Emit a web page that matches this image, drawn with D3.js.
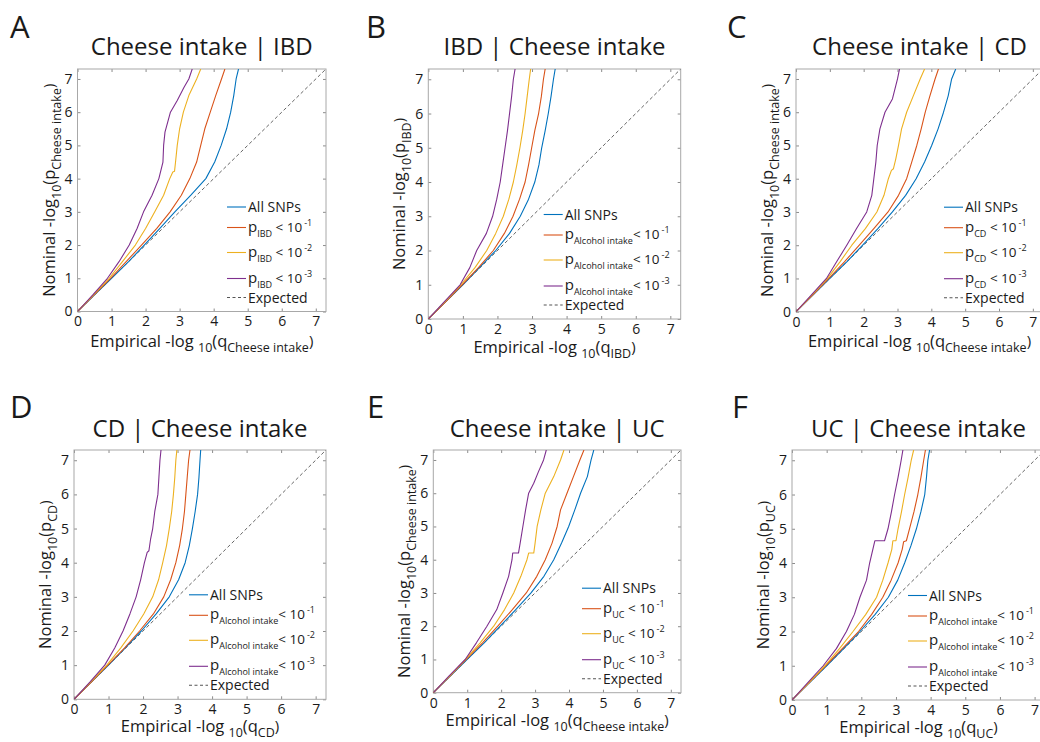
<!DOCTYPE html>
<html><head><meta charset="utf-8">
<script src="https://cdn.jsdelivr.net/npm/d3@7"></script>
<style>
body{margin:0;background:#fff}
svg{display:block}
text{font-family:"Open Sans","Noto Sans",sans-serif;fill:#1a1a1a}
</style>
</head><body>
<svg id="c" width="1040" height="742"></svg>
<script>
// ---------------- data ----------------
const panelLetters = ["A","B","C","D","E","F"];
const panelTitles = ["Cheese intake | IBD","IBD | Cheese intake","Cheese intake | CD",
                     "CD | Cheese intake","Cheese intake | UC","UC | Cheese intake"];
const axisTraits = ["Cheese intake","IBD","Cheese intake","CD","Cheese intake","UC"];
const conditionTraits = ["IBD","Alcohol intake","CD","Alcohol intake","UC","Alcohol intake"];
const seriesNames = ["All SNPs","p < 10^-1","p < 10^-2","p < 10^-3"];
const thresholdExps = ["-1","-2","-3"];
const expectedLabel = "Expected";
const tickValues = [0,1,2,3,4,5,6,7];
const axisMax = 7.3;

// [empirical -log10 q, nominal -log10 p]
const A_all = [[0,0],[0.5,0.5],[1,1],[1.5,1.5],[1.96,2],[2.42,2.5],[2.86,3],[3.33,3.5],[3.77,4],[4.03,4.5],[4.22,5],[4.38,5.5],[4.5,6],[4.59,6.5],[4.66,7],[4.73,7.3]];
const A_p1  = [[0,0],[0.49,0.5],[0.97,1],[1.43,1.5],[1.88,2],[2.33,2.5],[2.72,3],[3.05,3.5],[3.3,4],[3.5,4.5],[3.62,5],[3.74,5.5],[3.9,6],[4.06,6.5],[4.23,7],[4.33,7.3]];
const A_p2  = [[0,0],[0.47,0.5],[0.93,1],[1.32,1.5],[1.7,2],[2.0,2.5],[2.27,3],[2.53,3.5],[2.71,4],[2.8,4.2],[2.85,4.22],[2.88,4.5],[2.93,5],[3.0,5.5],[3.11,6],[3.27,6.5],[3.5,7],[3.62,7.3]];
const A_p3  = [[0,0],[0.45,0.5],[0.88,1],[1.22,1.5],[1.52,2],[1.75,2.5],[1.94,3],[2.19,3.5],[2.39,4],[2.51,4.5],[2.53,5],[2.57,5.4],[2.73,6],[2.93,6.35],[3.13,6.75],[3.27,7],[3.37,7.3]];

const B_all = [[0,0],[0.5,0.5],[1,1],[1.48,1.5],[1.95,2],[2.35,2.5],[2.66,3],[2.9,3.5],[3.08,4],[3.2,4.5],[3.28,5],[3.38,5.5],[3.47,6],[3.55,6.5],[3.62,7],[3.67,7.3]];
const B_p1  = [[0,0],[0.5,0.5],[0.98,1],[1.45,1.5],[1.88,2],[2.2,2.5],[2.45,3],[2.64,3.5],[2.8,4],[2.9,4.5],[2.99,5],[3.08,5.5],[3.19,6],[3.27,6.5],[3.33,7],[3.38,7.3]];
const B_p2  = [[0,0],[0.48,0.5],[0.94,1],[1.35,1.5],[1.69,2],[1.95,2.5],[2.17,3],[2.33,3.5],[2.46,4],[2.56,4.5],[2.65,5],[2.73,5.5],[2.8,6],[2.86,6.5],[2.92,7],[2.96,7.3]];
const B_p3  = [[0,0],[0.46,0.5],[0.92,1],[1.2,1.5],[1.4,2],[1.68,2.5],[1.86,3],[1.98,3.5],[2.08,4],[2.15,4.5],[2.22,5],[2.29,5.5],[2.35,6],[2.41,6.5],[2.46,7],[2.51,7.3]];

const C_all = [[0,0],[0.5,0.5],[1,1],[1.5,1.5],[1.97,2],[2.42,2.5],[2.85,3],[3.24,3.5],[3.55,4],[3.8,4.5],[4.01,5],[4.2,5.5],[4.36,6],[4.5,6.5],[4.6,7],[4.72,7.3]];
const C_p1  = [[0,0],[0.49,0.5],[0.97,1],[1.43,1.5],[1.87,2],[2.3,2.5],[2.72,3],[3.03,3.5],[3.27,4],[3.42,4.5],[3.57,5],[3.7,5.5],[3.82,6],[3.96,6.5],[4.11,7],[4.21,7.3]];
const C_p2  = [[0,0],[0.47,0.5],[0.93,1],[1.3,1.5],[1.65,2],[2.05,2.5],[2.39,3],[2.6,3.5],[2.73,4],[2.82,4.25],[2.88,4.3],[2.95,4.6],[3.03,5],[3.12,5.5],[3.27,6],[3.47,6.5],[3.67,7],[3.8,7.3]];
const C_p3  = [[0,0],[0.45,0.5],[0.9,1],[1.2,1.5],[1.5,2],[1.79,2.5],[2.09,3],[2.24,3.5],[2.3,4],[2.36,4.5],[2.4,5],[2.48,5.5],[2.63,6],[2.85,6.4],[3.0,7],[3.06,7.3]];

const D_all = [[0,0],[0.5,0.5],[1,1],[1.48,1.5],[1.95,2],[2.38,2.5],[2.76,3],[3.03,3.5],[3.22,4],[3.34,4.5],[3.43,5],[3.51,5.5],[3.58,6],[3.62,6.5],[3.65,7],[3.67,7.3]];
const D_p1  = [[0,0],[0.5,0.5],[0.98,1],[1.46,1.5],[1.9,2],[2.3,2.5],[2.6,3],[2.8,3.5],[2.95,4],[3.06,4.5],[3.14,5],[3.2,5.5],[3.24,6],[3.28,6.5],[3.32,7],[3.36,7.3]];
const D_p2  = [[0,0],[0.48,0.5],[0.95,1],[1.35,1.5],[1.71,2],[2.02,2.5],[2.28,3],[2.45,3.5],[2.57,4],[2.68,4.5],[2.76,5],[2.83,5.5],[2.88,6],[2.92,6.5],[2.95,7],[2.98,7.3]];
const D_p3  = [[0,0],[0.46,0.5],[0.89,1],[1.18,1.5],[1.42,2],[1.62,2.5],[1.8,3],[1.93,3.5],[2.04,4],[2.12,4.3],[2.17,4.35],[2.22,4.7],[2.28,5],[2.34,5.5],[2.43,6],[2.46,6.5],[2.49,7],[2.52,7.3]];

const E_all = [[0,0],[0.5,0.5],[1,1],[1.5,1.5],[1.97,2],[2.43,2.5],[2.88,3],[3.26,3.5],[3.55,4],[3.78,4.5],[3.99,5],[4.17,5.5],[4.34,6],[4.54,6.5],[4.65,7],[4.73,7.3]];
const E_p1  = [[0,0],[0.49,0.5],[0.97,1],[1.45,1.5],[1.9,2],[2.33,2.5],[2.74,3],[3.05,3.5],[3.3,4],[3.5,4.5],[3.65,5],[3.75,5.5],[3.94,6],[4.13,6.5],[4.32,7],[4.44,7.3]];
const E_p2  = [[0,0],[0.48,0.5],[0.95,1],[1.38,1.5],[1.78,2],[2.1,2.5],[2.37,3],[2.58,3.5],[2.76,4],[2.81,4.2],[2.96,4.2],[3.0,4.5],[3.06,5],[3.17,5.5],[3.3,6],[3.55,6.5],[3.75,7],[3.85,7.3]];
const E_p3  = [[0,0],[0.46,0.5],[0.94,1],[1.27,1.5],[1.58,2],[1.87,2.5],[2.05,3],[2.22,3.5],[2.32,4],[2.34,4.2],[2.51,4.2],[2.56,4.5],[2.64,5],[2.72,5.5],[2.81,6],[2.96,6.3],[3.1,6.65],[3.25,7],[3.33,7.3]];

const F_all = [[0,0],[0.5,0.5],[1.0,1],[1.49,1.5],[1.96,2],[2.4,2.5],[2.78,3],[3.05,3.5],[3.25,4],[3.43,4.5],[3.59,5],[3.72,5.5],[3.83,6],[3.88,6.5],[3.92,7],[3.97,7.3]];
const F_p1  = [[0,0],[0.49,0.5],[0.97,1],[1.45,1.5],[1.92,2],[2.3,2.5],[2.62,3],[2.86,3.5],[3.06,4],[3.18,4.4],[3.22,4.62],[3.3,4.65],[3.39,5],[3.52,5.5],[3.63,6],[3.72,6.5],[3.8,7],[3.85,7.3]];
const F_p2  = [[0,0],[0.48,0.5],[0.95,1],[1.37,1.5],[1.76,2],[2.13,2.5],[2.44,3],[2.62,3.5],[2.77,4],[2.88,4.4],[2.91,4.65],[3.0,4.65],[3.06,5],[3.16,5.5],[3.25,6],[3.35,6.5],[3.44,7],[3.51,7.3]];
const F_p3  = [[0,0],[0.45,0.5],[0.9,1],[1.28,1.5],[1.57,2],[1.8,2.5],[1.96,3],[2.15,3.5],[2.24,4],[2.39,4.65],[2.67,4.65],[2.77,5],[2.87,5.5],[2.96,6],[3.06,6.5],[3.15,7],[3.2,7.3]];

const panelSeries = [
  [A_all,A_p1,A_p2,A_p3],[B_all,B_p1,B_p2,B_p3],[C_all,C_p1,C_p2,C_p3],
  [D_all,D_p1,D_p2,D_p3],[E_all,E_p1,E_p2,E_p3],[F_all,F_p1,F_p2,F_p3]
];

// ---------------- layout / style ----------------
const colors = ["#0072BD","#D95319","#EDB120","#7E2F8E"];
const layout = [
  {L:77.5, R:326,  T:69,  B:311.5, lx:10,  ly:38,  xo:35},
  {L:428.3,R:680.7,T:69,  B:319,   lx:366, ly:38,  xo:34},
  {L:796,  R:1043, T:69,  B:311.7, lx:727, ly:38,  xo:35},
  {L:74,   R:326,  T:450, B:699.3, lx:10,  ly:418, xo:33},
  {L:433.3,R:681,  T:450, B:692.7, lx:367, ly:418, xo:33},
  {L:792,  R:1045, T:450, B:700,   lx:732, ly:418, xo:33}
];
const svg = d3.select("#c");
const defs = svg.append("defs");

panelLetters.forEach((letter, i) => {
  const p = layout[i];
  const g = svg.append("g");
  const x = d3.scaleLinear().domain([0, axisMax]).range([p.L, p.R]);
  const y = d3.scaleLinear().domain([0, axisMax]).range([p.B, p.T]);

  // panel letter
  g.append("text").attr("x", p.lx).attr("y", p.ly).attr("font-size", 31).text(letter);
  // title
  g.append("text").attr("x", (p.L + p.R) / 2).attr("y", p.T - (i < 3 ? 14 : 13))
    .attr("text-anchor", "middle").attr("font-size", 24).text(panelTitles[i]);

  // clip
  const cid = "clip" + i;
  defs.append("clipPath").attr("id", cid).append("rect")
    .attr("x", p.L).attr("y", p.T).attr("width", p.R - p.L).attr("height", p.B - p.T);

  // axes (ticks inward on all sides)
  const tickCol = "#8c8c8c";
  const ax = (gen, tr) => {
    const a = g.append("g").attr("transform", tr).call(gen);
    a.select(".domain").remove();
    a.selectAll(".tick line").attr("stroke", tickCol);
    return a;
  };
  ax(d3.axisBottom(x).tickValues(tickValues).tickSizeInner(-3).tickSizeOuter(0).tickPadding(5), `translate(0,${p.B})`)
    .selectAll("text").attr("font-size", 14).attr("fill", "#262626").attr("font-family", '"Open Sans",sans-serif');
  ax(d3.axisLeft(y).tickValues(tickValues).tickSizeInner(-3).tickSizeOuter(0).tickPadding(5), `translate(${p.L},0)`)
    .selectAll("text").attr("font-size", 14).attr("fill", "#262626").attr("font-family", '"Open Sans",sans-serif');
  ax(d3.axisTop(x).tickValues(tickValues).tickSizeInner(-3).tickSizeOuter(0).tickFormat(""), `translate(0,${p.T})`);
  ax(d3.axisRight(y).tickValues(tickValues).tickSizeInner(-3).tickSizeOuter(0).tickFormat(""), `translate(${p.R},0)`);
  g.append("rect").attr("x", p.L).attr("y", p.T).attr("width", p.R - p.L).attr("height", p.B - p.T)
    .attr("fill", "none").attr("stroke", "#a8a8a8").attr("stroke-width", 1);

  const plot = g.append("g").attr("clip-path", `url(#${cid})`);
  // expected line
  plot.append("path").datum([[0,0],[axisMax,axisMax]])
    .attr("d", d3.line().x(d => x(d[0])).y(d => y(d[1])))
    .attr("fill", "none").attr("stroke", "#555").attr("stroke-width", 0.9).attr("stroke-dasharray", "3.5,2.5");
  const line = d3.line().x(d => x(d[0])).y(d => y(d[1]));
  panelSeries[i].forEach((s, k) => {
    plot.append("path").datum(s).attr("d", line)
      .attr("fill", "none").attr("stroke", colors[k]).attr("stroke-width", 1.1).attr("stroke-linejoin", "round");
  });

  // x label
  const xl = g.append("text").attr("x", (p.L + p.R) / 2).attr("y", p.B + p.xo)
    .attr("text-anchor", "middle").attr("font-size", 16.5);
  xl.append("tspan").text("Empirical -log ");
  xl.append("tspan").attr("font-size", 12.5).attr("dy", 5).text("10");
  xl.append("tspan").attr("dy", -5).text("(q");
  xl.append("tspan").attr("font-size", 12.5).attr("dy", 5).text(axisTraits[i]);
  xl.append("tspan").attr("dy", -6).attr("font-size", 15).text(")");

  // y label
  const cy = (p.T + p.B) / 2;
  const yl = g.append("text").attr("transform", `translate(${p.L - 23},${cy}) rotate(-90)`)
    .attr("text-anchor", "middle").attr("font-size", 16.5);
  yl.append("tspan").text("Nominal -log");
  yl.append("tspan").attr("font-size", 12.5).attr("dy", 6).text("10");
  yl.append("tspan").attr("dy", -6).text("(p");
  yl.append("tspan").attr("font-size", 12.5).attr("dy", 6).text(axisTraits[i]);
  yl.append("tspan").attr("dy", -7).attr("font-size", 15).text(")");

  // legend
  const alc = conditionTraits[i].length > 4;
  const lx0 = p.R - (alc ? 137 : 99);
  const ly0 = p.B - 104.5;
  const rowOff = [0, 20.5, 45.5, 71.5, 90.5];
  const lg = g.append("g");
  const names = [seriesNames[0], ...thresholdExps, expectedLabel];
  names.forEach((nm, k) => {
    const yy = ly0 + rowOff[k];
    const ln = lg.append("line").attr("x1", lx0).attr("x2", lx0 + 19).attr("y1", yy).attr("y2", yy)
      .attr("stroke-width", 1.1);
    if (k < 4) ln.attr("stroke", colors[k]);
    else ln.attr("stroke", "#555").attr("stroke-dasharray", "3,2.5");
    const t = lg.append("text").attr("x", lx0 + 21).attr("font-size", 14);
    if (k === 0 || k === 4) {
      t.attr("y", yy + 5).text(k === 0 ? seriesNames[0] : expectedLabel);
    } else {
      t.attr("y", yy + 4);
      t.append("tspan").attr("font-size", 15).text("p");
      t.append("tspan").attr("font-size", 9).attr("dy", 5).text(conditionTraits[i]);
      t.append("tspan").attr("font-size", 13.5).attr("dy", -5).text((alc ? "" : " ") + "< 10");
      t.append("tspan").attr("font-size", 9).attr("dx", 2).attr("dy", -6).text(thresholdExps[k - 1]);
    }
  });
});
</script>
</body></html>
